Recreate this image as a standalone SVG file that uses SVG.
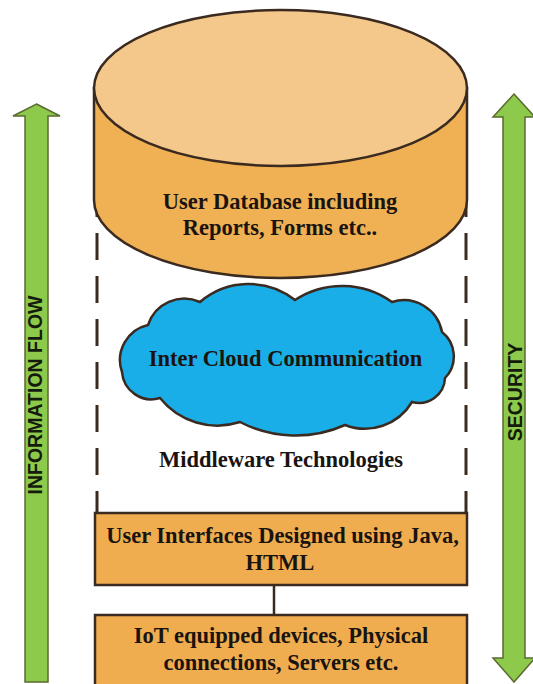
<svg xmlns="http://www.w3.org/2000/svg" width="533" height="684" viewBox="0 0 533 684">
<style>
.lbl{font-family:"Liberation Serif","Times New Roman",serif;font-weight:bold;font-size:22.5px;fill:#1a1410;text-anchor:middle}
.side{font-family:"Liberation Sans",Arial,sans-serif;font-weight:bold;font-size:19.5px;fill:#141a0c;text-anchor:middle}
.box{fill:#efad4f;stroke:#3b2a20;stroke-width:2.5}
.arrow{fill:#8dc94a;stroke:#5a6b30;stroke-width:1.5;stroke-linejoin:miter}
.dash{stroke:#3b2a20;stroke-width:3;stroke-dasharray:27 16;fill:none}
</style>
<rect width="533" height="684" fill="#ffffff"/>
<g id="information-flow">
<polygon class="arrow" points="36.5,104 60,116 48,116 48,682 25,682 25,116 13,116"/>
<text class="side" transform="translate(42,395) rotate(-90)">INFORMATION FLOW</text>
</g>
<g id="security">
<polygon class="arrow" points="514,94 535,117 525,117 525,658 535,658 514,682 493,658 503,658 503,117 493,117"/>
<text class="side" transform="translate(522,392) rotate(-90)">SECURITY</text>
</g>
<g id="middleware">
<line class="dash" x1="97" y1="190" x2="97" y2="513"/>
<line class="dash" x1="466" y1="190" x2="466" y2="513"/>
<text class="lbl" x="281" y="467">Middleware Technologies</text>
</g>
<g id="database">
<path d="M94,88 L94,200 A186.5,78 0 0 0 467,200 L467,88 Z" fill="#f0b155" stroke="#3b2a20" stroke-width="2.5"/>
<ellipse cx="280.5" cy="88" rx="186.5" ry="78" fill="#f4c78b" stroke="#3b2a20" stroke-width="2.5"/>
<text class="lbl" x="280" y="209">User Database including</text>
<text class="lbl" x="280" y="235">Reports, Forms etc..</text>
</g>
<g id="cloud">
<path d="M122,372 A36,36 0 0 1 148,325 A38,38 0 0 1 200,302 A75,75 0 0 1 295,300 A86,86 0 0 1 392,302 A39,39 0 0 1 442,332 A31,31 0 0 1 445,378 A26,26 0 0 1 412,402 A55,55 0 0 1 345,425 A121,121 0 0 1 240,422 A73.5,73.5 0 0 1 160,398 A29.5,29.5 0 0 1 122,372 Z" fill="#1aaee8" stroke="#3b2a20" stroke-width="2.5"/>
<text class="lbl" x="285.5" y="366">Inter Cloud Communication</text>
</g>
<g id="connectors">
<line x1="274" y1="585" x2="274" y2="615" stroke="#3b2a20" stroke-width="2.5"/>
</g>
<g id="user-interfaces">
<rect class="box" x="95" y="513" width="372" height="72"/>
<text class="lbl" x="282.5" y="543">User Interfaces Designed using Java,</text>
<text class="lbl" x="280" y="570">HTML</text>
</g>
<g id="iot-devices">
<rect class="box" x="95" y="615" width="372" height="80"/>
<text class="lbl" x="281" y="643">IoT equipped devices, Physical</text>
<text class="lbl" x="281" y="670">connections, Servers etc.</text>
</g>
</svg>
